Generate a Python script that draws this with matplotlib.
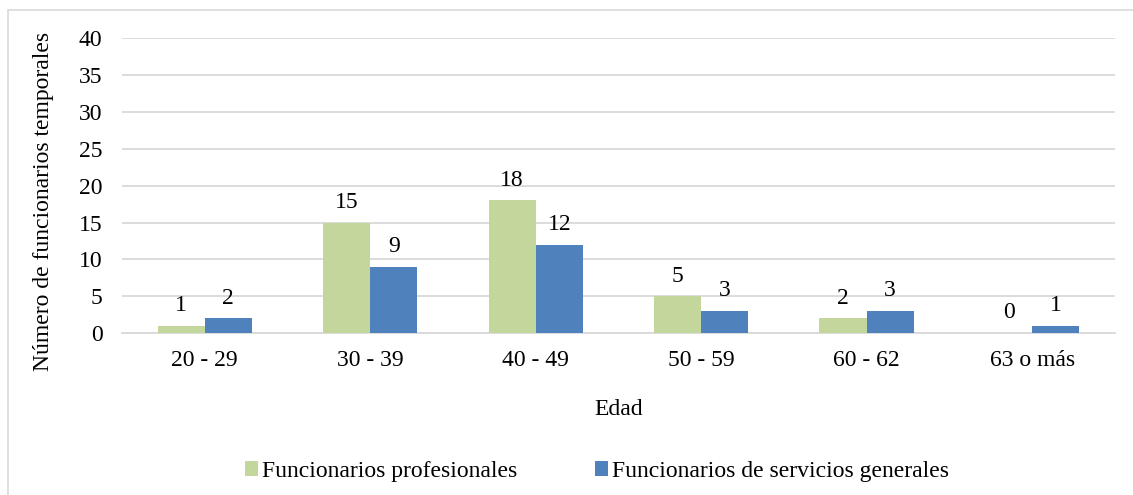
import matplotlib.pyplot as plt
import numpy as np
from matplotlib.patches import Rectangle

plt.rcParams['font.family'] = ['Liberation Serif', 'DejaVu Serif']

## Data
categories = ['20 - 29', '30 - 39', '40 - 49', '50 - 59', '60 - 62', '63 o más']
profesionales = [1, 15, 18, 5, 2, 0]
servicios = [2, 9, 12, 3, 3, 1]
series_names = ['Funcionarios profesionales', 'Funcionarios de servicios generales']

green = '#c3d69b'
blue = '#4f81bd'
grid_col = '#d9d9d9'
fs = 17

fig = plt.figure(figsize=(11.33, 4.95), dpi=100)
ax = fig.add_axes([0.1077, 0.327, 0.8763, 0.596])

# outer frame of the chart
fig.patches.append(Rectangle((8 / 1133, -0.1), 1.2, 1 - 10 / 495 + 0.1,
                             transform=fig.transFigure, fill=False,
                             edgecolor=grid_col, linewidth=1.2))

x = np.arange(len(categories))
w = 0.285
b1 = ax.bar(x - w / 2, profesionales, w, color=green, label=series_names[0], zorder=3)
b2 = ax.bar(x + w / 2, servicios, w, color=blue, label=series_names[1], zorder=3)

for bars in (b1, b2):
    for r in bars:
        ax.annotate(f'{int(r.get_height())}',
                    (r.get_x() + r.get_width() / 2, r.get_height()),
                    xytext=(0, 7), textcoords='offset points',
                    ha='center', va='bottom', fontsize=fs)

ax.set_ylim(0, 40)
ax.set_yticks(range(0, 41, 5))
ax.set_xlim(-0.5, len(categories) - 0.5)
ax.set_xticks(x)
ax.set_xticklabels(categories)
ax.tick_params(axis='both', length=0, labelsize=fs)
ax.tick_params(axis='x', pad=12)
ax.tick_params(axis='y', pad=14)
ax.yaxis.grid(True, color=grid_col, linewidth=1.3, zorder=0)
for s in ['top', 'right', 'left']:
    ax.spines[s].set_visible(False)
ax.spines['bottom'].set_color(grid_col)
ax.spines['bottom'].set_linewidth(1.3)

ax.set_xlabel('Edad', fontsize=fs, labelpad=20)
ax.set_ylabel('Número de funcionarios temporales', fontsize=fs, labelpad=18)
ax.yaxis.label.set_y(0.445)

fig.legend(loc='center', bbox_to_anchor=(0.527, 0.048), ncol=2, frameon=False,
           fontsize=fs, handlelength=0.55, handleheight=0.55,
           handletextpad=0.15, columnspacing=3.3)

fig.savefig('out.png', dpi=100)
